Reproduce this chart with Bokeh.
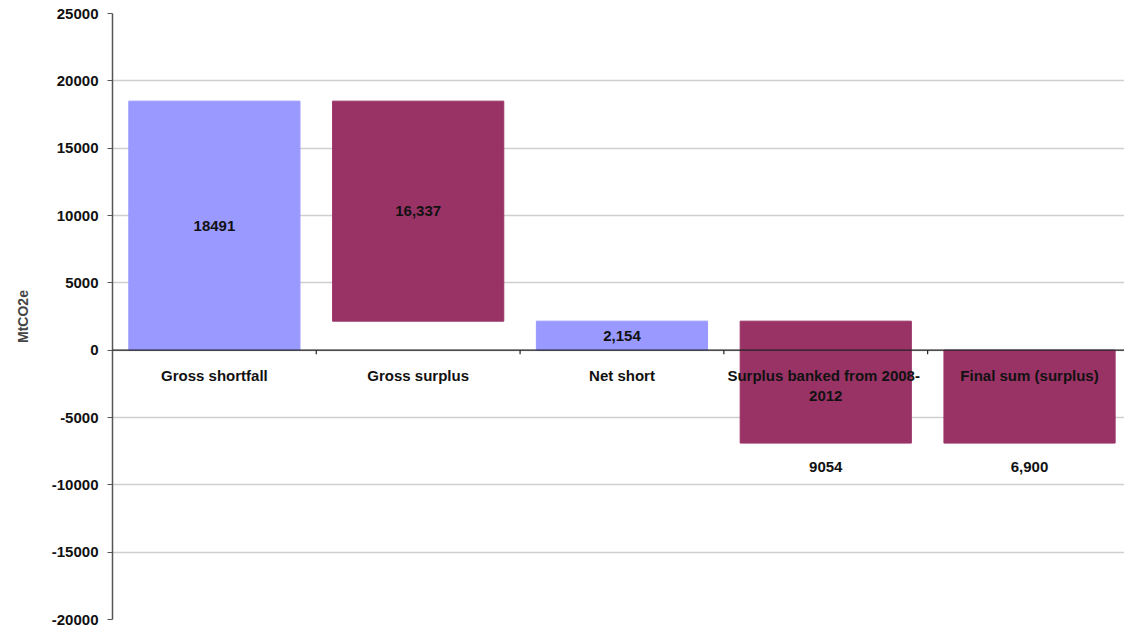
from bokeh.plotting import figure
from bokeh.models import ColumnDataSource, FixedTicker, Range1d, Span
from bokeh.core.properties import value
from bokeh.embed import file_html
from bokeh.resources import INLINE

# ---- data ----
categories = ["Gross shortfall", "Gross surplus", "Net short",
              "Surplus banked  from 2008-\n2012", "Final sum (surplus)"]
bar_top = [18491, 18491, 2154, 2154, 0]
bar_bottom = [0, 2154, 0, -6900, -6900]
value_labels = ["18491", "16,337", "2,154", "9054", "6,900"]
bar_colors = ["#9999FF", "#993366", "#9999FF", "#993366", "#993366"]
y_ticks = [-20000, -15000, -10000, -5000, 0, 5000, 10000, 15000, 20000, 25000]
y_tick_labels = [str(t) for t in y_ticks]

FONT = "Liberation Sans"

n = len(categories)
xc = [i + 0.5 for i in range(n)]
lab_y = [(t + b) / 2 if b >= 0 else b for t, b in zip(bar_top, bar_bottom)]
lab_off = [0 if b >= 0 else 24 for b in bar_bottom]

src = ColumnDataSource(dict(x=xc, top=bar_top, bottom=bar_bottom, color=bar_colors,
                            lab=value_labels, lab_y=lab_y, lab_off=lab_off,
                            cat=categories, zero=[0] * n))

p = figure(width=1124, height=630, output_backend="svg", toolbar_location=None,
           x_range=Range1d(0, 4.966), y_range=Range1d(y_ticks[0], y_ticks[-1]),
           x_axis_location=None, min_border_left=112, min_border_right=0,
           min_border_top=13, min_border_bottom=11)
p.outline_line_color = None
p.xgrid.visible = False
p.ygrid.grid_line_color = "#cfcfcf"
p.ygrid.grid_line_width = 1.5
p.ygrid.ticker = FixedTicker(ticks=y_ticks)

ya = p.yaxis[0]
ya.ticker = FixedTicker(ticks=y_ticks)
ya.major_label_overrides = dict(zip(y_ticks, y_tick_labels))
ya.axis_line_color = "#555555"
ya.axis_line_width = 1.5
ya.major_tick_line_color = "#555555"
ya.major_tick_out = 5
ya.major_tick_in = 0
ya.minor_tick_line_color = None
ya.major_label_standoff = 9
ya.major_label_text_font = FONT
ya.major_label_text_font_style = "bold"
ya.major_label_text_font_size = "15px"
ya.major_label_text_color = "#111111"
ya.axis_label = "MtCO2e"
ya.axis_label_text_font = FONT
ya.axis_label_text_font_style = "bold"
ya.axis_label_text_font_size = "14px"
ya.axis_label_standoff = 18

p.vbar(x="x", top="top", bottom="bottom", width=0.84, color="color", source=src)

# zero line with category-boundary ticks
p.add_layout(Span(location=0, dimension="width", line_color="#222222", line_width=1.2))
bounds = list(range(1, n))
tick_len = (y_ticks[-1] - y_ticks[0]) * 4 / 606
p.segment(x0=bounds, x1=bounds, y0=[0] * len(bounds), y1=[-tick_len] * len(bounds),
          line_color="#222222", line_width=1.2)

p.text(x="x", y="lab_y", text="lab", y_offset="lab_off", source=src,
       text_font=value(FONT), text_font_style="bold", text_font_size="15px",
       text_align="center", text_baseline="middle", text_color="#111111")

p.text(x="x", y="zero", text="cat", y_offset=17, source=src,
       text_font=value(FONT), text_font_style="bold", text_font_size="15px",
       text_align="center", text_baseline="top", text_color="#111111",
       text_line_height=1.15)

open("out.html", "w").write(file_html(p, INLINE))
